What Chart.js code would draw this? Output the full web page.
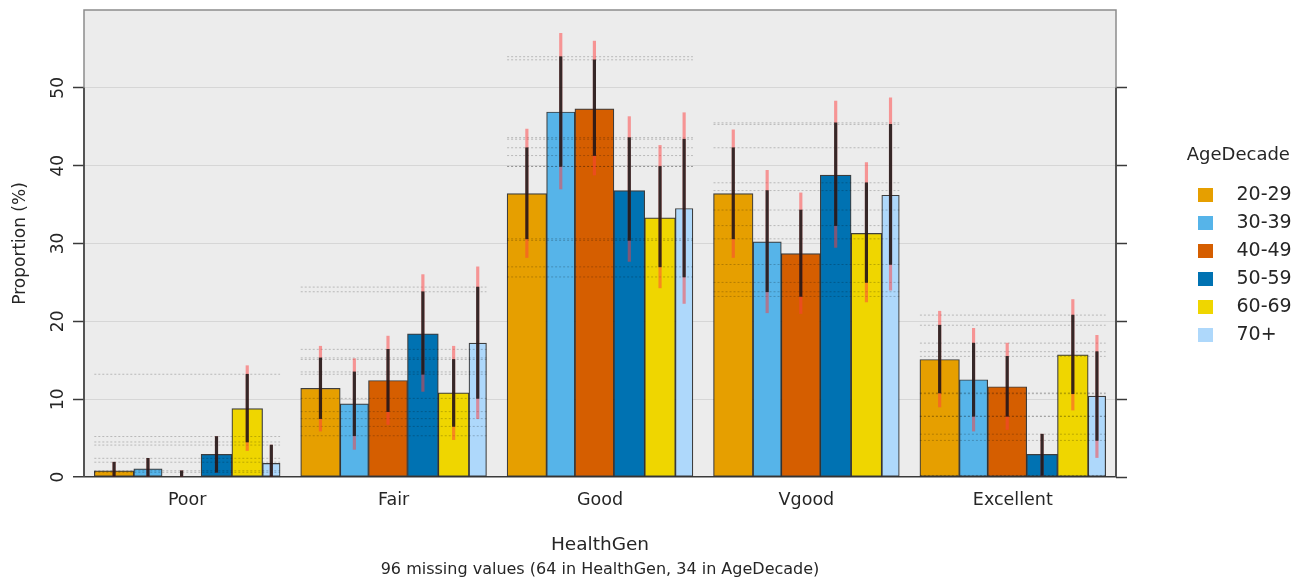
<!DOCTYPE html>
<html>
<head>
<meta charset="utf-8">
<script src="https://cdn.jsdelivr.net/npm/chart.js@4.4.0/dist/chart.umd.min.js"></script>
<style>
  html, body { margin: 0; padding: 0; background: #ffffff; }
  #wrap { width: 1311px; height: 581px; position: relative; }
  canvas { display: block; }
</style>
</head>
<body>
<div id="wrap"><canvas id="c" width="1311" height="581"></canvas></div>
<script>
// ---------------- data ----------------
const categories = ['Poor', 'Fair', 'Good', 'Vgood', 'Excellent'];
const ageGroups = ['20-29', '30-39', '40-49', '50-59', '60-69', '70+'];
// relative sample size of each age group (sets bar widths)
const ageGroupSize = [39.5, 28.3, 39.0, 30.8, 30.7, 17.5];
const yTicks = [0, 10, 20, 30, 40, 50];

// proportions (%) per HealthGen category
const pct_20_29 = [0.8, 11.4, 36.4, 36.4, 15.1];
const pct_30_39 = [1.05, 9.4, 46.9, 30.2, 12.5];
const pct_40_49 = [0, 12.4, 47.3, 28.7, 11.6];
const pct_50_59 = [2.9, 18.4, 36.8, 38.8, 2.9];
const pct_60_69 = [8.8, 10.8, 33.3, 31.3, 15.7];
const pct_70p   = [1.75, 17.2, 34.5, 36.2, 10.4];

// comparison intervals (black)
const cmp_20_29 = [[0, 1.9], [7.5, 15.3], [30.6, 42.3], [30.6, 42.3], [10.8, 19.5]];
const cmp_30_39 = [[0, 2.4], [5.3, 13.5], [39.9, 54.0], [23.8, 36.8], [7.8, 17.2]];
const cmp_40_49 = [[0, 0.8], [8.4, 16.4], [41.3, 53.6], [23.2, 34.3], [7.8, 15.5]];
const cmp_50_59 = [[0.6, 5.2], [13.2, 23.8], [30.4, 43.6], [32.3, 45.5], [0.2, 5.5]];
const cmp_60_69 = [[4.5, 13.2], [6.5, 15.1], [27.0, 39.9], [25.0, 37.8], [10.7, 20.8]];
const cmp_70p   = [[0, 4.1], [10.1, 24.4], [25.7, 43.4], [27.3, 45.3], [4.7, 16.1]];

// confidence intervals (red)
const ci_20_29 = [[0, 1.9], [5.9, 16.8], [28.2, 44.7], [28.2, 44.6], [9.0, 21.3]];
const ci_30_39 = [[0, 2.4], [3.55, 15.2], [37.0, 57.0], [21.1, 39.4], [5.9, 19.1]];
const ci_40_49 = [[0, 0.8], [6.75, 18.1], [38.8, 56.0], [21.0, 36.5], [6.1, 17.2]];
const ci_50_59 = [[0.6, 5.2], [11.0, 26.0], [27.7, 46.3], [29.5, 48.3], [0.2, 5.5]];
const ci_60_69 = [[3.4, 14.3], [4.8, 16.8], [24.3, 42.6], [22.5, 40.4], [8.6, 22.8]];
const ci_70p   = [[0, 4.1], [7.5, 27.0], [22.3, 46.8], [24.0, 48.7], [2.5, 18.2]];

// ---------------- styling ----------------
const FONT = "'DejaVu Sans', sans-serif";
const TEXT = '#262626';
const COLORS = ['#E69F00', '#56B4E9', '#D55E00', '#0072B2', '#EFD600', '#AED8FB'];
const GROUP_SPAN = 0.9;
const LEGEND_LEFT = 1175;
const PLOT_RIGHT = 1116;

const pctSeries = [pct_20_29, pct_30_39, pct_40_49, pct_50_59, pct_60_69, pct_70p];
const cmpSeries = [cmp_20_29, cmp_30_39, cmp_40_49, cmp_50_59, cmp_60_69, cmp_70p];
const ciSeries  = [ci_20_29, ci_30_39, ci_40_49, ci_50_59, ci_60_69, ci_70p];

const totalSize = ageGroupSize.reduce((a, b) => a + b, 0);
const barW = ageGroupSize.map(s => s / totalSize * GROUP_SPAN);
const barOff = [];
{ let acc = -GROUP_SPAN / 2; barW.forEach(w => { barOff.push(acc + w / 2); acc += w; }); }

const datasets = [];
ageGroups.forEach((g, k) => {
  datasets.push({
    type: 'bar', label: g, isMain: true, widthUnits: barW[k],
    data: categories.map((c, i) => ({ x: i + barOff[k], y: pctSeries[k][i] })),
    backgroundColor: COLORS[k], borderColor: 'rgba(30,30,30,0.85)', borderWidth: 1.2,
    borderSkipped: false, grouped: false, barThickness: 20, order: 5
  });
});
categories.forEach((c, i) => {
  const pts = [];
  cmpSeries.forEach(s => s[i].forEach(v => {
    if (v > 0.05) {
      pts.push({ x: i - GROUP_SPAN / 2, y: v }, { x: i + GROUP_SPAN / 2, y: v }, { x: i + GROUP_SPAN / 2, y: null });
    }
  }));
  datasets.push({
    type: 'line', label: 'ref-' + c, data: pts, borderColor: 'rgba(0,0,0,0.22)', borderWidth: 1,
    borderDash: [2, 2], pointRadius: 0, spanGaps: false, fill: false, tension: 0, order: 3
  });
});
ageGroups.forEach((g, k) => {
  datasets.push({
    type: 'bar', label: 'ci-' + g,
    data: categories.map((c, i) => ({ x: i + barOff[k], y: ciSeries[k][i] })),
    backgroundColor: 'rgba(255,60,60,0.5)', borderWidth: 0, barThickness: 2.5, grouped: false, order: 2
  });
});
ageGroups.forEach((g, k) => {
  datasets.push({
    type: 'bar', label: 'cmp-' + g,
    data: categories.map((c, i) => ({ x: i + barOff[k], y: cmpSeries[k][i] })),
    backgroundColor: 'rgba(20,20,20,0.85)', borderWidth: 0, barThickness: 2.5, grouped: false, order: 1
  });
});

function swatch(color) {
  const c = document.createElement('canvas');
  c.width = 15; c.height = 14;
  const g = c.getContext('2d');
  g.fillStyle = color; g.fillRect(0, 0, 15, 14);
  return c;
}

const framePlugin = {
  id: 'frame',
  beforeDraw(chart) {
    const { ctx, chartArea: a } = chart;
    ctx.save();
    ctx.fillStyle = '#ECECEC';
    ctx.fillRect(a.left, a.top, a.right - a.left, a.bottom - a.top);
    ctx.restore();
  },
  beforeDatasetsDraw(chart) {
    const { ctx, chartArea: a, scales } = chart;
    ctx.save();
    ctx.strokeStyle = '#8c8c8c';
    ctx.lineWidth = 1.5;
    ctx.beginPath();
    ctx.moveTo(a.left, a.bottom); ctx.lineTo(a.left, a.top); ctx.lineTo(a.right, a.top); ctx.lineTo(a.right, a.bottom);
    ctx.stroke();
    const y0 = scales.y.getPixelForValue(yTicks[0]);
    const y1 = scales.y.getPixelForValue(yTicks[yTicks.length - 1]);
    ctx.strokeStyle = '#3a3a3a';
    ctx.beginPath();
    ctx.moveTo(a.left, y0); ctx.lineTo(a.left, y1);
    ctx.moveTo(a.right, y0); ctx.lineTo(a.right, y1);
    ctx.stroke();
    ctx.restore();
  }
};

const yTickBuild = s => { s.ticks = yTicks.map(v => ({ value: v })); };

const chart = new Chart(document.getElementById('c'), {
  type: 'bar',
  data: { datasets },
  plugins: [framePlugin],
  options: {
    responsive: false, animation: false, devicePixelRatio: 1, events: [],
    indexAxis: 'x',
    layout: { padding: { top: 10, left: 0, right: 10, bottom: 0 } },
    scales: {
      x: {
        type: 'linear', min: -0.5, max: 4.5, offset: false,
        afterBuildTicks: s => { s.ticks = categories.map((c, i) => ({ value: i })); },
        grid: { display: false, drawTicks: false },
        border: { display: false },
        ticks: { autoSkip: false, maxRotation: 0, minRotation: 0, padding: 13,
                 font: { family: FONT, size: 17.5 }, color: TEXT,
                 callback: v => categories[Math.round(v)] ?? '' },
        title: { display: true, text: 'HealthGen', font: { family: FONT, size: 18.5 }, color: TEXT,
                 padding: { top: 0, bottom: 4 } },
        afterFit: s => { s.height = 83.4; s.paddingLeft = 0; s.paddingRight = 0; }
      },
      y: {
        type: 'linear', position: 'left', min: 0, max: 60,
        afterBuildTicks: yTickBuild,
        grid: {
          color: c => (c.tick && c.tick.value === 0) ? '#3a3a3a' : '#d6d6d6',
          lineWidth: c => (c.tick && c.tick.value === 0) ? 1.5 : 1,
          drawTicks: true, tickLength: 11, tickColor: '#3a3a3a', tickWidth: 1.5
        },
        border: { display: false },
        ticks: { minRotation: 90, maxRotation: 90, crossAlign: 'center', padding: 4,
                 font: { family: FONT, size: 17 }, color: TEXT },
        title: { display: true, text: 'Proportion (%)', font: { family: FONT, size: 17 }, color: TEXT,
                 padding: { top: 10, bottom: 0 } },
        afterFit: s => { s.width = 84; s.paddingTop = 0; s.paddingBottom = 0; }
      },
      y2: {
        type: 'linear', position: 'right', min: 0, max: 60,
        afterBuildTicks: yTickBuild,
        grid: { drawOnChartArea: false, drawTicks: true, tickLength: 11, tickColor: '#3a3a3a', tickWidth: 1.5, color: 'rgba(0,0,0,0)' },
        border: { display: false },
        ticks: { display: false },
        afterFit: s => { s.width = LEGEND_LEFT - PLOT_RIGHT; s.paddingTop = 0; s.paddingBottom = 0; }
      }
    },
    plugins: {
      tooltip: { enabled: false },
      title: { display: false },
      subtitle: {
        display: true, position: 'bottom', fullSize: false,
        text: '96 missing values (64 in HealthGen, 34 in AgeDecade)',
        font: { family: FONT, size: 16, weight: 'normal' }, color: TEXT,
        padding: { top: 0, bottom: 1.4 }
      },
      legend: {
        display: true, position: 'right', fullSize: false, align: 'center',
        title: { display: true, text: 'AgeDecade', font: { family: FONT, size: 18 }, color: TEXT,
                 padding: { top: 12, bottom: 8.6 } },
        labels: {
          usePointStyle: true, pointStyleWidth: 43, padding: 9,
          font: { family: FONT, size: 19 }, color: TEXT,
          generateLabels: ch => ch.data.datasets
            .map((ds, i) => ({ ds, i }))
            .filter(o => o.ds.isMain)
            .map(o => ({
              text: o.ds.label, fillStyle: o.ds.backgroundColor, strokeStyle: o.ds.backgroundColor,
              lineWidth: 0, pointStyle: swatch(o.ds.backgroundColor), hidden: false,
              datasetIndex: o.i, fontColor: TEXT
            }))
        }
      }
    }
  }
});

function relayout() {
  chart.options.layout.padding.right = Math.max(0, 1311 - LEGEND_LEFT - chart.legend.width);
  chart.update('none');
  const xs = chart.scales.x;
  const unit = xs.getPixelForValue(1) - xs.getPixelForValue(0);
  chart.data.datasets.forEach(ds => { if (ds.isMain) ds.barThickness = ds.widthUnits * unit; });
  chart.update('none');
}
relayout();
relayout();
</script>
</body>
</html>
